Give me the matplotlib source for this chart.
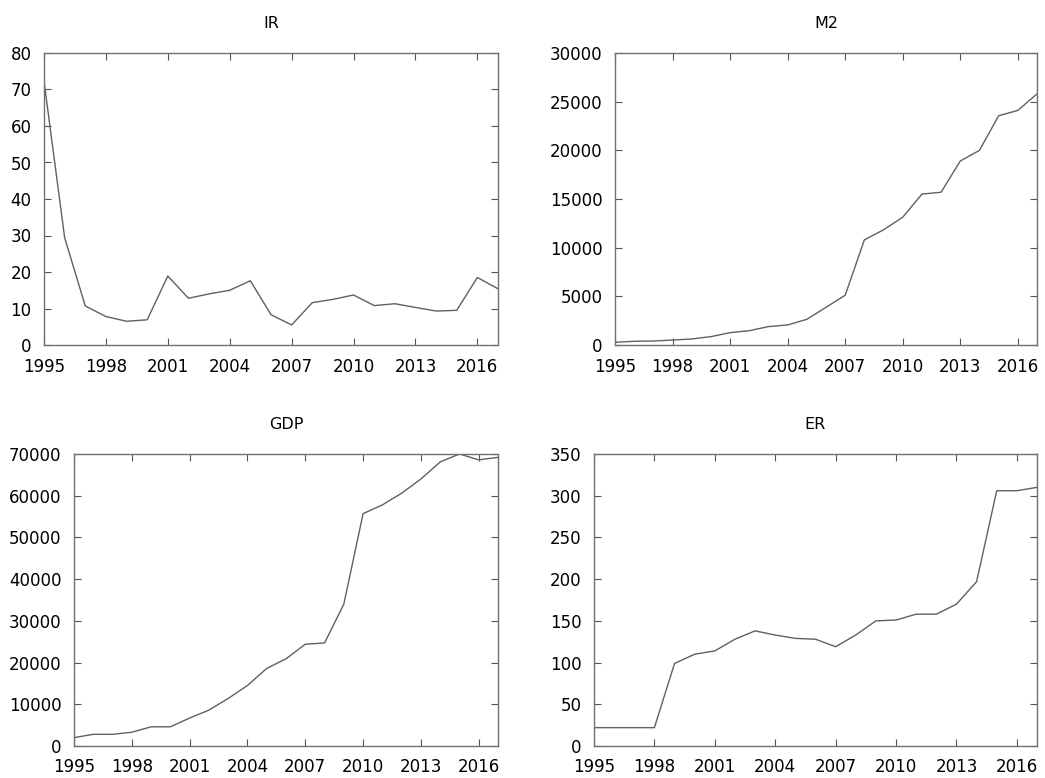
import matplotlib
matplotlib.use("Agg")
from matplotlib import pyplot as plt

years = list(range(1995, 2018))

ir = [72.3, 29.4, 10.7, 7.8, 6.5, 6.9, 18.9, 12.8, 14.0, 15.0, 17.6, 8.3,
      5.5, 11.6, 12.5, 13.7, 10.8, 11.3, 10.3, 9.3, 9.5, 18.5, 15.4]
m2 = [280, 380, 410, 510, 620, 860, 1270, 1470, 1890, 2060, 2640, 3870,
      5110, 10800, 11830, 13130, 15500, 15700, 18900, 20000, 23550, 24100, 25800]
gdp = [2000, 2800, 2800, 3300, 4600, 4600, 6700, 8600, 11400, 14500, 18600, 20900,
       24400, 24700, 34000, 55700, 57800, 60600, 64000, 68100, 70000, 68600, 69200]
er = [22, 22, 22, 22, 99, 110, 114, 128, 138, 133, 129, 128,
      119, 133, 150, 151, 158, 158, 170, 197, 306, 306, 310]

xticks = list(range(1995, 2017, 3))

W, H = 1045, 778
fig = plt.figure(figsize=(W / 100, H / 100), dpi=100)

# pixel boxes: left, right, top, bottom
panels = [
    ("IR", ir, (44, 498, 53, 345), 80, 10),
    ("M2", m2, (615, 1037, 53, 345), 30000, 5000),
    ("GDP", gdp, (74, 498, 454, 746), 70000, 10000),
    ("ER", er, (594, 1037, 454, 746), 350, 50),
]

for title, vals, (l, r, t, b), ymax, step in panels:
    ax = fig.add_axes([l / W, 1 - b / H, (r - l) / W, (b - t) / H])
    ax.plot(years, vals, color="#606060", lw=1.0)
    ax.set_xlim(1995, 2017)
    ax.set_ylim(0, ymax)
    ax.set_xticks(xticks)
    ax.set_yticks(range(0, ymax + 1, step))
    ax.tick_params(direction="in", top=True, right=True, length=5,
                   width=0.8, color="#555555", labelsize=12)
    ax.tick_params(axis="x", pad=9)
    ax.tick_params(axis="y", pad=9)
    for s in ax.spines.values():
        s.set_color("#707070")
        s.set_linewidth(1.0)
    ax.set_title(title, fontsize=11.5, pad=18)

fig.savefig("out.png", dpi=100)
